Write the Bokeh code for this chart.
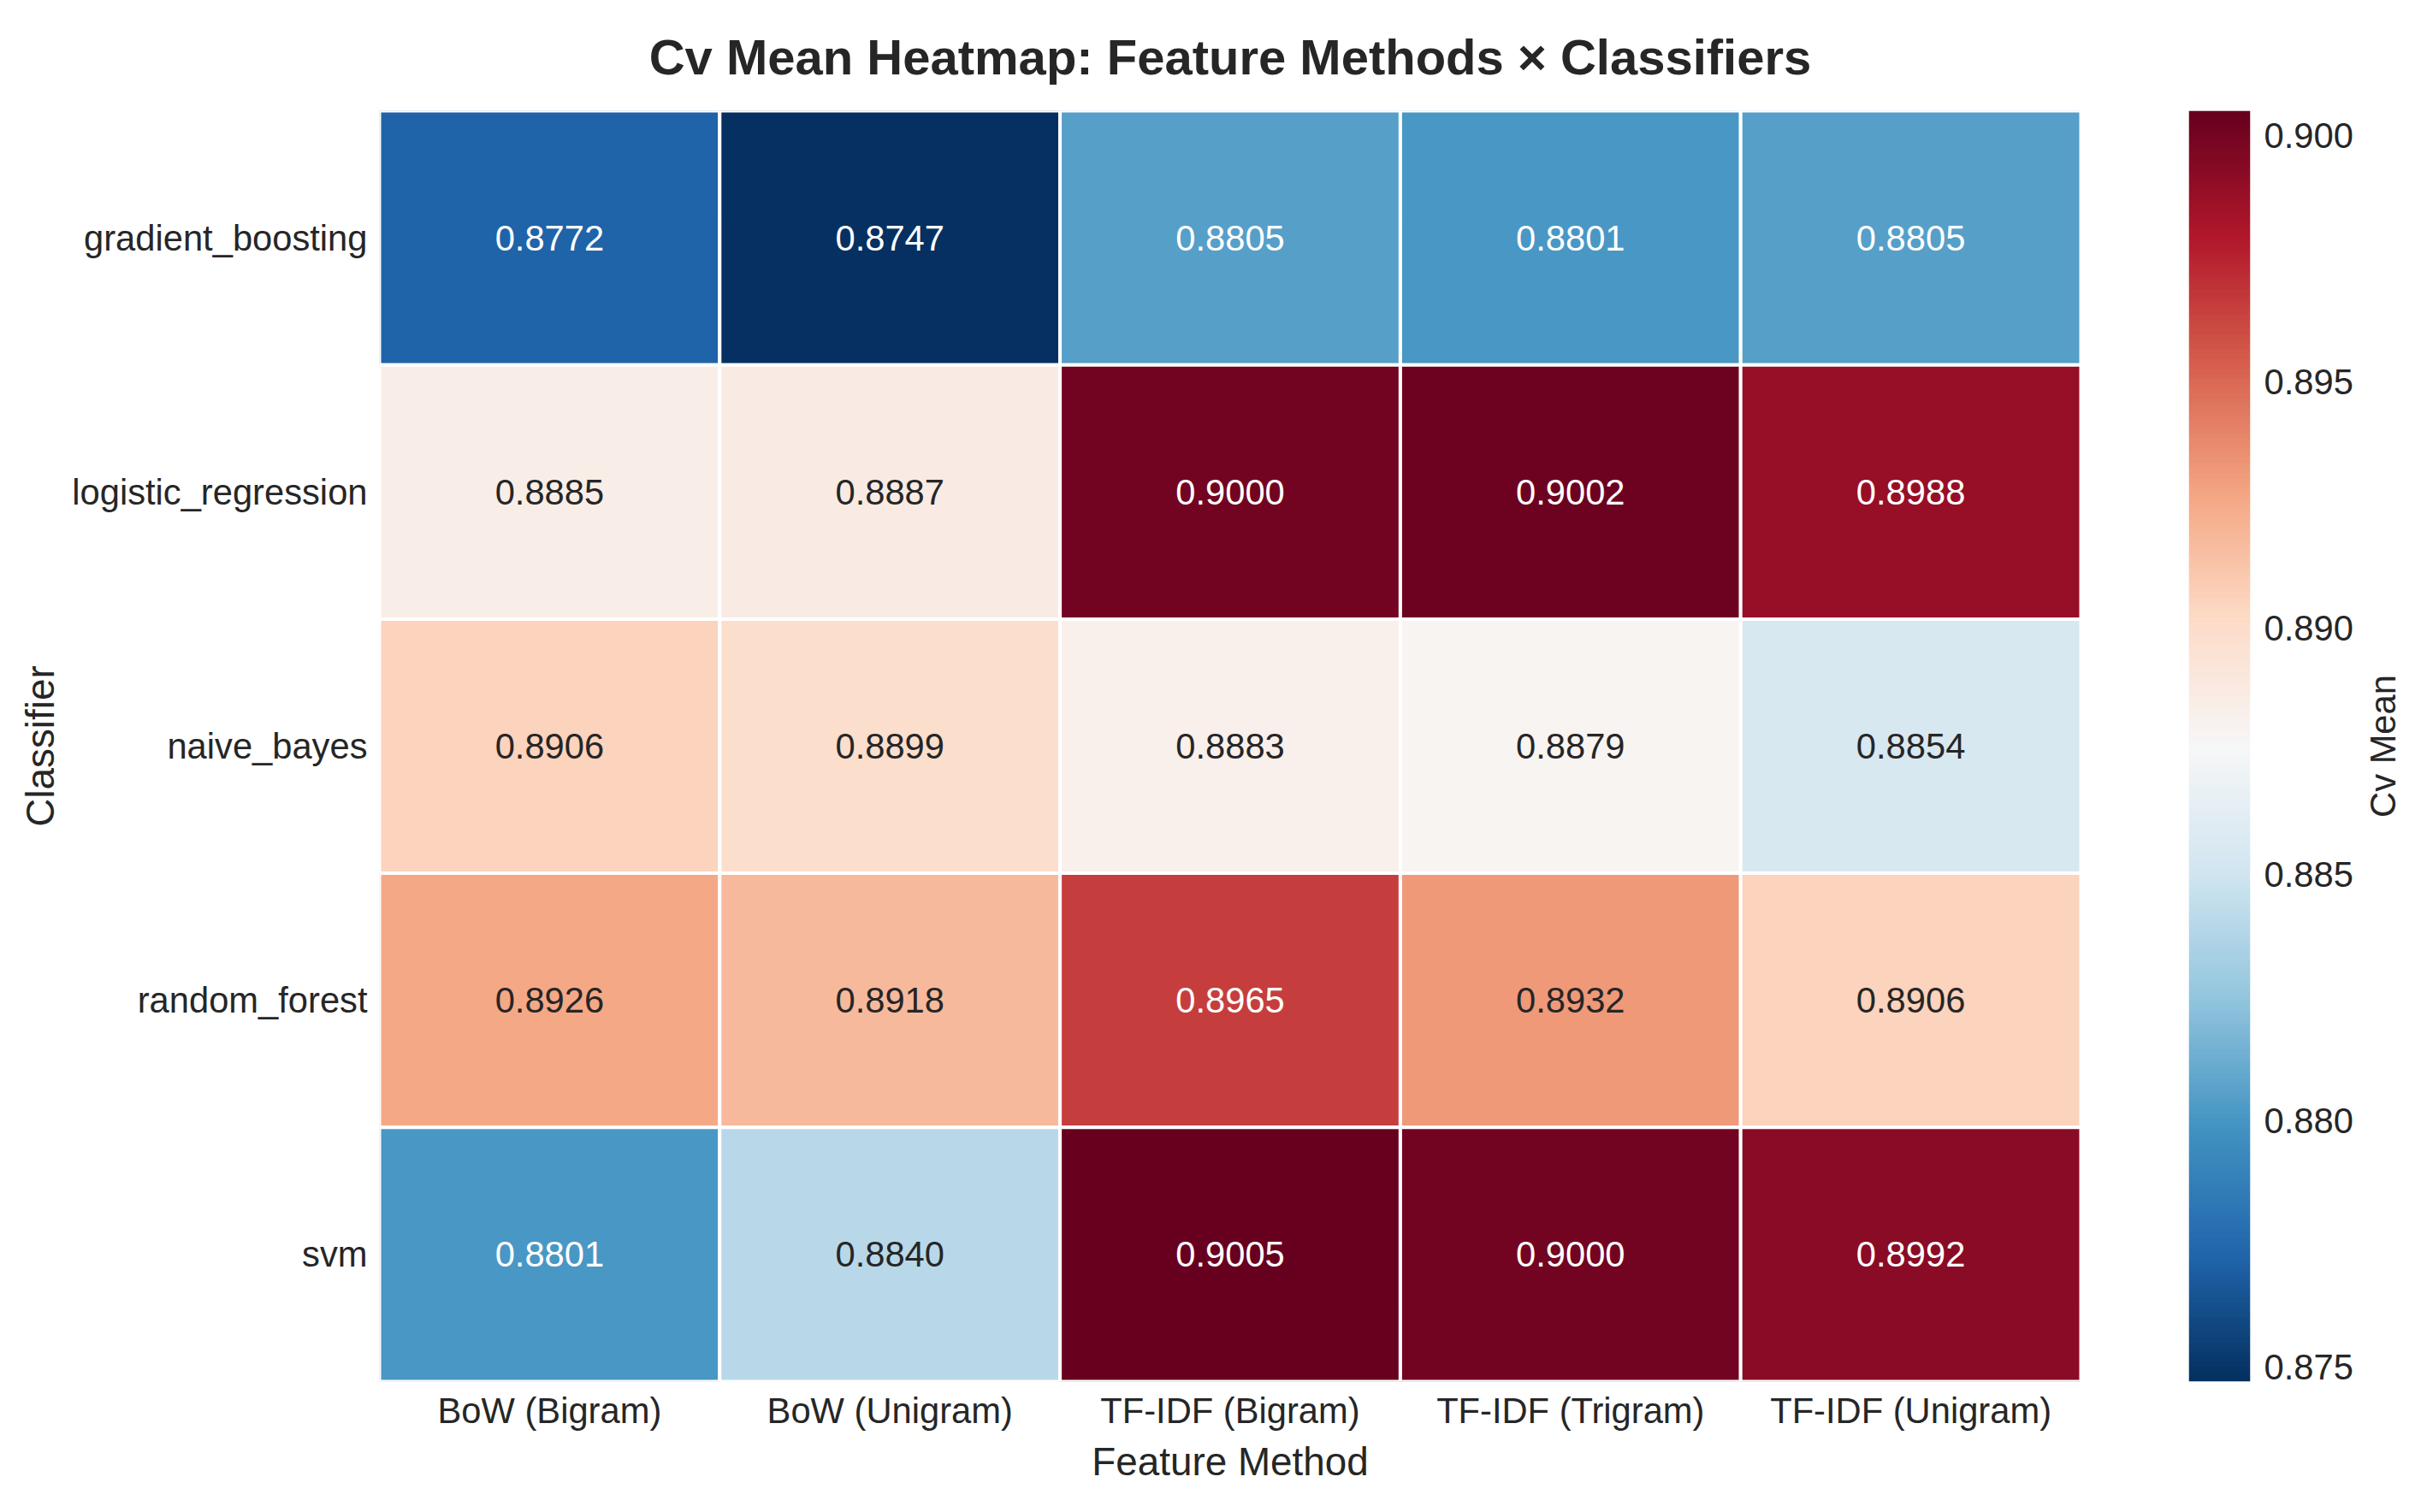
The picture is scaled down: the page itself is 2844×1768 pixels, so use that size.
import numpy as np
from bokeh.plotting import figure
from bokeh.models import (LinearColorMapper, ColumnDataSource, FactorRange, Range1d,
                          FixedTicker, PrintfTickFormatter)
from bokeh.layouts import row, column
from bokeh.core.properties import value
from bokeh.embed import file_html
from bokeh.resources import INLINE

# ---------------- data ----------------
classifiers = ["gradient_boosting", "logistic_regression", "naive_bayes", "random_forest", "svm"]
methods = ["BoW (Bigram)", "BoW (Unigram)", "TF-IDF (Bigram)", "TF-IDF (Trigram)", "TF-IDF (Unigram)"]
gradient_boosting = [0.8772, 0.8747, 0.8805, 0.8801, 0.8805]
logistic_regression = [0.8885, 0.8887, 0.9000, 0.9002, 0.8988]
naive_bayes = [0.8906, 0.8899, 0.8883, 0.8879, 0.8854]
random_forest = [0.8926, 0.8918, 0.8965, 0.8932, 0.8906]
svm = [0.8801, 0.8840, 0.9005, 0.9000, 0.8992]
colorbar_ticks = [0.875, 0.880, 0.885, 0.890, 0.895, 0.900]
title_text = "Cv Mean Heatmap: Feature Methods \u00d7 Classifiers"
colorbar_label = "Cv Mean"

rows = [gradient_boosting, logistic_regression, naive_bayes, random_forest, svm]

# ---------------- colormap (RdBu_r, 256) ----------------
rdbu = ["#67001f", "#b2182b", "#d6604d", "#f4a582", "#fddbc7", "#f7f7f7",
        "#d1e5f0", "#92c5de", "#4393c3", "#2166ac", "#053061"]
rdbu_r = rdbu[::-1]
rgb = np.array([[int(h[i:i + 2], 16) for i in (1, 3, 5)] for h in rdbu_r]) / 255.0
pos = np.linspace(0, 1, len(rdbu_r))
tt = np.linspace(0, 1, 256)
chan = np.stack([np.interp(tt, pos, rgb[:, c]) for c in range(3)], axis=1)
palette = ["#%02x%02x%02x" % tuple(int(round(v * 255)) for v in c) for c in chan]

all_vals = [v for r in rows for v in r]
vmin, vmax = min(all_vals), max(all_vals)
mapper = LinearColorMapper(palette=palette, low=vmin, high=vmax)


def text_color(v):
    n = (v - vmin) / (vmax - vmin)
    idx = min(max(int(n * 256), 0), 255)
    c = chan[idx]
    lin = np.where(c <= 0.03928, c / 12.92, ((c + 0.055) / 1.055) ** 2.4)
    lum = 0.2126 * lin[0] + 0.7152 * lin[1] + 0.0722 * lin[2]
    return "#262626" if lum > 0.408 else "#ffffff"


xs, ys, vals, labels, tcols = [], [], [], [], []
for cls, r in zip(classifiers, rows):
    for m, v in zip(methods, r):
        xs.append(m)
        ys.append(cls)
        vals.append(v)
        labels.append("%.4f" % v)
        tcols.append(text_color(v))
src = ColumnDataSource(dict(method=xs, classifier=ys, value=vals, label=labels, tcolor=tcols))

FONT = "Liberation Sans"
DARK = "#262626"
TICK_FS = "41.7px"
LABEL_FS = "45.8px"

# page geometry (figure coordinates)
TITLE_H = 127
ROW_H = 1617
HEAT_W = 2432
CB_W = 126 + 75 + 120
CBT_W = 59
TOTAL_W = HEAT_W + CB_W + CBT_W


def style_axis(ax):
    ax.axis_line_color = None
    ax.major_tick_line_color = None
    ax.minor_tick_line_color = None
    ax.major_tick_out = 0
    ax.major_tick_in = 0
    ax.minor_tick_out = 0
    ax.minor_tick_in = 0
    ax.major_label_text_font = FONT
    ax.major_label_text_font_size = TICK_FS
    ax.major_label_text_color = DARK
    ax.axis_label_text_font = FONT
    ax.axis_label_text_font_style = "normal"
    ax.axis_label_text_color = DARK


# ---------------- title strip ----------------
pt = figure(width=TOTAL_W, height=TITLE_H, x_range=Range1d(0, TOTAL_W), y_range=Range1d(0, TITLE_H),
            output_backend="svg", toolbar_location=None,
            x_axis_location=None, y_axis_location=None,
            min_border_left=0, min_border_right=0, min_border_top=0, min_border_bottom=0)
pt.grid.visible = False
pt.outline_line_color = None
pt.text(x=[(443 + 2432) / 2], y=[TITLE_H - 66], text=[title_text],
        text_align="center", text_baseline="alphabetic",
        text_font=value(FONT), text_font_size="58px", text_font_style="bold", text_color=DARK)

# ---------------- heatmap ----------------
p = figure(width=HEAT_W, height=ROW_H,
           x_range=FactorRange(*methods), y_range=FactorRange(*classifiers[::-1]),
           output_backend="svg", toolbar_location=None,
           min_border_left=443, min_border_right=0, min_border_top=2,
           min_border_bottom=ROW_H - 2 - 1486)
p.rect(x="method", y="classifier", width=1, height=1, source=src,
       fill_color={"field": "value", "transform": mapper}, line_color="white", line_width=4)
p.text(x="method", y="classifier", text="label", text_color="tcolor", source=src,
       text_align="center", text_baseline="middle",
       text_font=value(FONT), text_font_size=TICK_FS)

p.grid.visible = False
p.outline_line_color = None
p.background_fill_color = "white"
p.border_fill_color = "white"
for ax in (p.xaxis, p.yaxis):
    style_axis(ax)
    ax.axis_label_text_font_size = LABEL_FS
p.xaxis.axis_label = "Feature Method"
p.yaxis.axis_label = "Classifier"
p.xaxis.major_label_standoff = 10
p.yaxis.major_label_standoff = 14
p.xaxis.axis_label_standoff = 8
p.yaxis.axis_label_standoff = 8

# ---------------- colorbar ----------------
p2 = figure(width=CB_W, height=ROW_H, x_range=Range1d(0, 1), y_range=Range1d(vmin, vmax),
            output_backend="svg", toolbar_location=None,
            x_axis_location=None, y_axis_location="right",
            min_border_left=126, min_border_right=120, min_border_top=0,
            min_border_bottom=ROW_H - 1490)
grad = np.linspace(vmin, vmax, 512).reshape(-1, 1)
p2.image(image=[grad], x=0, y=vmin, dw=1, dh=vmax - vmin, color_mapper=mapper)
p2.grid.visible = False
p2.outline_line_color = None
ya = p2.yaxis[0]
style_axis(ya)
ya.ticker = FixedTicker(ticks=colorbar_ticks)
ya.formatter = PrintfTickFormatter(format="%.3f")
ya.major_label_standoff = 16

# colorbar title as a left-axis label of a slim companion figure
p3 = figure(width=CBT_W, height=ROW_H, x_range=Range1d(0, 1), y_range=Range1d(0, 1),
            output_backend="svg", toolbar_location=None,
            x_axis_location=None, y_axis_location="left",
            min_border_left=55, min_border_right=0, min_border_top=0,
            min_border_bottom=ROW_H - 1490)
p3.grid.visible = False
p3.outline_line_color = None
yb = p3.yaxis[0]
style_axis(yb)
yb.ticker = FixedTicker(ticks=[])
yb.major_label_standoff = 0
yb.axis_label = colorbar_label
yb.axis_label_standoff = 0
yb.axis_label_text_font_size = TICK_FS

layout = column(pt, row(p, p2, p3))
open("out.html", "w").write(file_html(layout, INLINE))
